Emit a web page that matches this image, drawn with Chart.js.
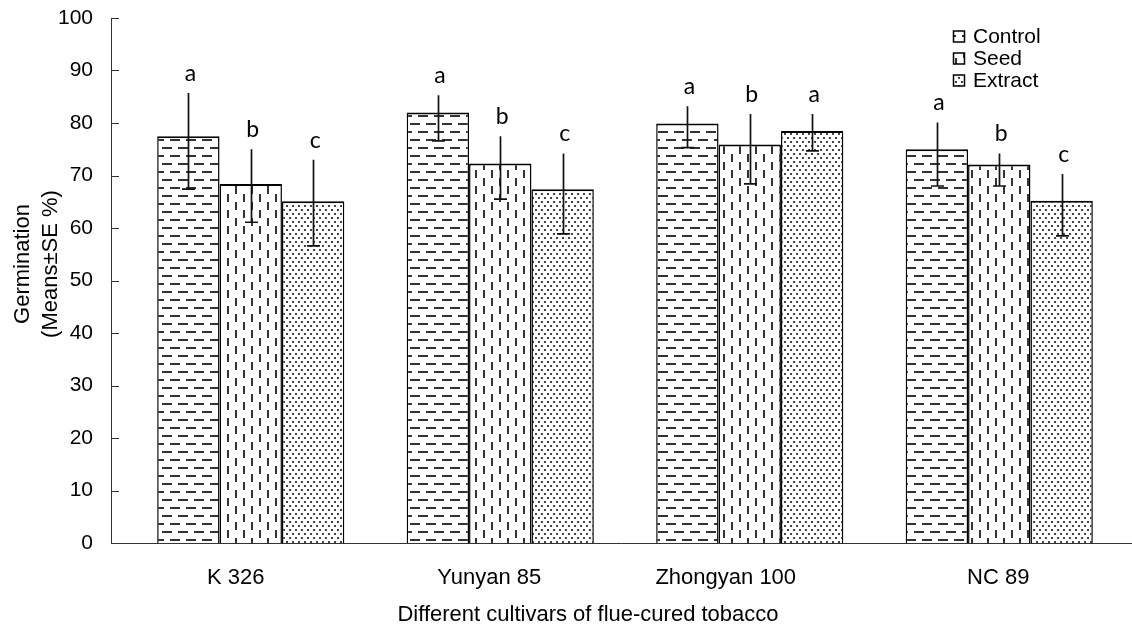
<!DOCTYPE html>
<html>
<head>
<meta charset="utf-8">
<script src="https://cdn.jsdelivr.net/npm/chart.js@4.4.1/dist/chart.umd.min.js"></script>
<style>
  html, body { margin: 0; padding: 0; background: #fff; }
  #wrap { width: 1132px; height: 625px; }
</style>
</head>
<body>
<div id="wrap"><canvas id="c" width="1132" height="625"></canvas></div>
<script>
// Germination (%) of four flue-cured tobacco cultivars under three treatments
const categories = ['K 326', 'Yunyan 85', 'Zhongyan 100', 'NC 89'];
const seriesNames = ['Control', 'Seed', 'Extract'];

const controlMean = [77.5, 82.0, 79.9, 75.0];
const seedMean    = [68.4, 72.3, 75.9, 72.1];
const extractMean = [65.1, 67.4, 78.5, 65.2];

// upper and lower ends of the ±SE bars
const controlHigh = [85.7, 85.3, 83.2, 80.1];
const controlLow  = [67.4, 76.6, 75.3, 68.0];
const seedHigh    = [75.0, 77.5, 81.7, 74.2];
const seedLow     = [61.1, 65.5, 68.4, 68.0];
const extractHigh = [73.0, 74.2, 81.7, 70.3];
const extractLow  = [56.6, 58.9, 74.7, 58.5];

// significance letters
const controlLetters = ['a', 'a', 'a', 'a'];
const seedLetters    = ['b', 'b', 'b', 'b'];
const extractLetters = ['c', 'c', 'a', 'c'];

const yTicks = { min: 0, max: 100, step: 10 };

const FONT = "'Liberation Sans', Arial, sans-serif";
const canvas = document.getElementById('c');
const ctx = canvas.getContext('2d');

// ---- fill patterns ----
function makePattern(w, h, paint) {
  const t = document.createElement('canvas');
  t.width = w; t.height = h;
  const g = t.getContext('2d');
  g.fillStyle = '#fff';
  g.fillRect(0, 0, w, h);
  paint(g);
  return ctx.createPattern(t, 'repeat');
}
const hDashes = makePattern(16, 16, g => {
  g.fillStyle = '#333';
  g.fillRect(2, 3, 10, 2);
  g.fillRect(10, 11, 6, 2);
  g.fillRect(0, 11, 4, 2);
});
const vDashes = makePattern(16, 16, g => {
  g.fillStyle = '#333';
  g.fillRect(3, 2, 2, 8);
  g.fillRect(11, 10, 2, 6);
  g.fillRect(11, 0, 2, 2);
});
const dots = makePattern(6, 8, g => {
  g.fillStyle = '#444';
  g.fillRect(1, 1, 2, 2);
  g.fillRect(4, 5, 2, 2);
});

const barStyle = { borderColor: '#000', borderWidth: { top: 2, left: 1.5, right: 1.5, bottom: 0 }, borderSkipped: 'start' };

const datasets = [
  { label: seriesNames[0], data: controlMean, backgroundColor: hDashes, high: controlHigh, low: controlLow, letters: controlLetters, ...barStyle },
  { label: seriesNames[1], data: seedMean, backgroundColor: vDashes, high: seedHigh, low: seedLow, letters: seedLetters, ...barStyle },
  { label: seriesNames[2], data: extractMean, backgroundColor: dots, high: extractHigh, low: extractLow, letters: extractLetters, ...barStyle }
];

// position of the drawn axis lines (they reach a little past the bar area)
const axisLeft = 111;
const axisRight = 1132;

// error bars (cap at lower end) and significance letters
const errorBars = {
  id: 'errorBars',
  afterDatasetsDraw(chart) {
    const c = chart.ctx, y = chart.scales.y;
    c.save();
    chart.data.datasets.forEach((ds, di) => {
      const meta = chart.getDatasetMeta(di);
      meta.data.forEach((bar, i) => {
        const x = Math.round(bar.x) + 0.5;
        const yt = y.getPixelForValue(ds.high[i]);
        const yb = y.getPixelForValue(ds.low[i]);
        c.strokeStyle = '#111';
        c.lineWidth = 1.7;
        c.beginPath();
        c.moveTo(x, yt); c.lineTo(x, yb);
        c.moveTo(x - 6.5, yb); c.lineTo(x + 6.5, yb);
        c.stroke();
        c.fillStyle = '#000';
        c.font = "23px Lato, 'Open Sans', sans-serif";
        c.textAlign = 'center';
        c.textBaseline = 'alphabetic';
        c.fillText(ds.letters[i], bar.x + 2, yt - 12);
      });
    });
    c.restore();
  }
};

// axis lines with inward tick marks on the value axis
const axisLines = {
  id: 'axisLines',
  afterDraw(chart) {
    const c = chart.ctx, y = chart.scales.y, area = chart.chartArea;
    c.save();
    c.strokeStyle = '#333';
    c.lineWidth = 1;
    c.beginPath();
    const bottom = Math.round(area.bottom) + 0.5;
    c.moveTo(axisLeft + 0.5, Math.round(area.top));
    c.lineTo(axisLeft + 0.5, bottom);
    c.lineTo(axisRight, bottom);
    y.ticks.forEach(t => {
      const py = Math.round(y.getPixelForValue(t.value)) + 0.5;
      c.moveTo(axisLeft, py); c.lineTo(axisLeft + 8, py);
    });
    c.stroke();
    c.restore();
  }
};

// category names, axis titles and the in-plot legend
const labelNudge = [-15, -11, -24, -1];
const axisText = {
  id: 'axisText',
  afterDraw(chart) {
    const c = chart.ctx, xs = chart.scales.x, area = chart.chartArea;
    c.save();
    c.fillStyle = '#000';
    c.textAlign = 'center';
    c.textBaseline = 'alphabetic';
    c.font = '22px ' + FONT;
    categories.forEach((name, i) => {
      c.fillText(name, xs.getPixelForValue(i) + labelNudge[i], area.bottom + 41);
    });
    c.fillText('Different cultivars of flue-cured tobacco', 588, 621);

    c.save();
    c.translate(0, 264);
    c.rotate(-Math.PI / 2);
    c.textBaseline = 'middle';
    c.fillText('Germination', 0, 23);
    c.fillText('(Means\u00B1SE %)', 0, 51);
    c.restore();

    // legend
    c.font = '21px ' + FONT;
    c.textAlign = 'left';
    c.textBaseline = 'middle';
    chart.data.datasets.forEach((ds, i) => {
      const cy = 36.5 + i * 22;
      c.fillStyle = ds.backgroundColor;
      c.fillRect(953, cy - 5.5, 12, 11);
      c.strokeStyle = '#000';
      c.lineWidth = 1.5;
      c.strokeRect(953.5, cy - 5.5, 11, 11);
      c.fillStyle = '#000';
      c.fillText(ds.label, 973, cy + 1);
    });
    c.restore();
  }
};

new Chart(ctx, {
  type: 'bar',
  data: { labels: categories, datasets },
  options: {
    responsive: false,
    animation: false,
    devicePixelRatio: 1,
    categoryPercentage: 0.75,
    barPercentage: 1,
    layout: { padding: { top: 18, right: 8, left: 0, bottom: 0 } },
    plugins: { legend: { display: false }, tooltip: { enabled: false } },
    scales: {
      x: {
        type: 'category',
        offset: true,
        grid: { display: false, drawTicks: false },
        border: { display: false },
        ticks: { display: false },
        afterFit(s) { s.height = 82; s.paddingLeft = 0; s.paddingRight = 0; }
      },
      y: {
        min: yTicks.min,
        max: yTicks.max,
        grid: { display: false, drawTicks: false },
        border: { display: false },
        ticks: { stepSize: yTicks.step, padding: 33, color: '#000', font: { size: 21, family: FONT } },
        afterFit(s) { s.width = 126; s.paddingTop = 0; s.paddingBottom = 0; }
      }
    }
  },
  plugins: [errorBars, axisLines, axisText]
});
</script>
</body>
</html>
